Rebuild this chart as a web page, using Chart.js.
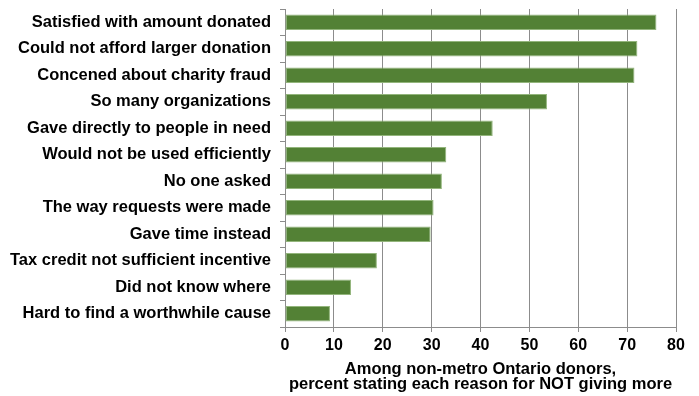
<!DOCTYPE html>
<html>
<head>
<meta charset="utf-8">
<script src="https://cdn.jsdelivr.net/npm/chart.js@4/dist/chart.umd.min.js"></script>
<style>
  html, body { margin: 0; padding: 0; background: #fff; }
  #wrap { width: 699px; height: 396px; }
</style>
</head>
<body>
<div id="wrap"><canvas id="barChart" width="699" height="396"></canvas></div>
<script>
var reasons = [
  "Satisfied with amount donated",
  "Could not afford larger donation",
  "Concened about charity fraud",
  "So many organizations",
  "Gave directly to people in need",
  "Would not be used efficiently",
  "No one asked",
  "The way requests were made",
  "Gave time instead",
  "Tax credit not sufficient incentive",
  "Did not know where",
  "Hard to find a worthwhile cause"
];
var percents = [76.0, 72.1, 71.5, 53.6, 42.5, 33.0, 32.1, 30.4, 29.8, 18.8, 13.5, 9.2];
var xTicks = [0, 10, 20, 30, 40, 50, 60, 70, 80];
var axisTitle = ["Among non-metro Ontario donors,", "percent stating each reason for NOT giving more"];

var fam = "'Liberation Sans', Arial, sans-serif";
var font = { family: fam, size: 16, weight: 'bold' };
var labelFont = { family: fam, size: 16.5, weight: 'bold' };

var chartJs = new Chart(document.getElementById("barChart"), {
  type: 'bar',
  data: {
    labels: reasons,
    datasets: [{
      data: percents,
      backgroundColor: "#538135",
      borderColor: "#93b57c",
      borderWidth: 1,
      borderSkipped: false,
      categoryPercentage: 1,
      barPercentage: 0.58
    }]
  },
  options: {
    indexAxis: 'y',
    responsive: false,
    animation: false,
    layout: { padding: { top: 9, right: 23, left: 0, bottom: 0 } },
    plugins: { legend: { display: false }, tooltip: { enabled: false } },
    scales: {
      x: {
        min: xTicks[0],
        max: xTicks[xTicks.length - 1],
        afterBuildTicks: function(s) { s.ticks = xTicks.map(function(v){ return { value: v }; }); },
        grid: { color: "#8c8c8c", lineWidth: 1, tickLength: 5, drawTicks: true },
        border: { color: "#8c8c8c" },
        ticks: { color: "#000", font: font, padding: 4 },
        title: { display: true, text: axisTitle, color: "#000",
                 font: { family: fam, size: 16.5, weight: 'bold', lineHeight: 0.9 }, padding: { top: 4, bottom: 4 } },
        afterFit: function(s) { s.height = 69; }
      },
      y: {
        grid: { drawOnChartArea: false, color: "#8c8c8c", tickLength: 5 },
        border: { color: "#8c8c8c" },
        ticks: { color: "#000", font: labelFont, padding: 9, autoSkip: false },
        afterFit: function(s) { s.width = 285; s.paddingTop = 0; s.paddingBottom = 0; }
      }
    }
  }
});
</script>
</body>
</html>
